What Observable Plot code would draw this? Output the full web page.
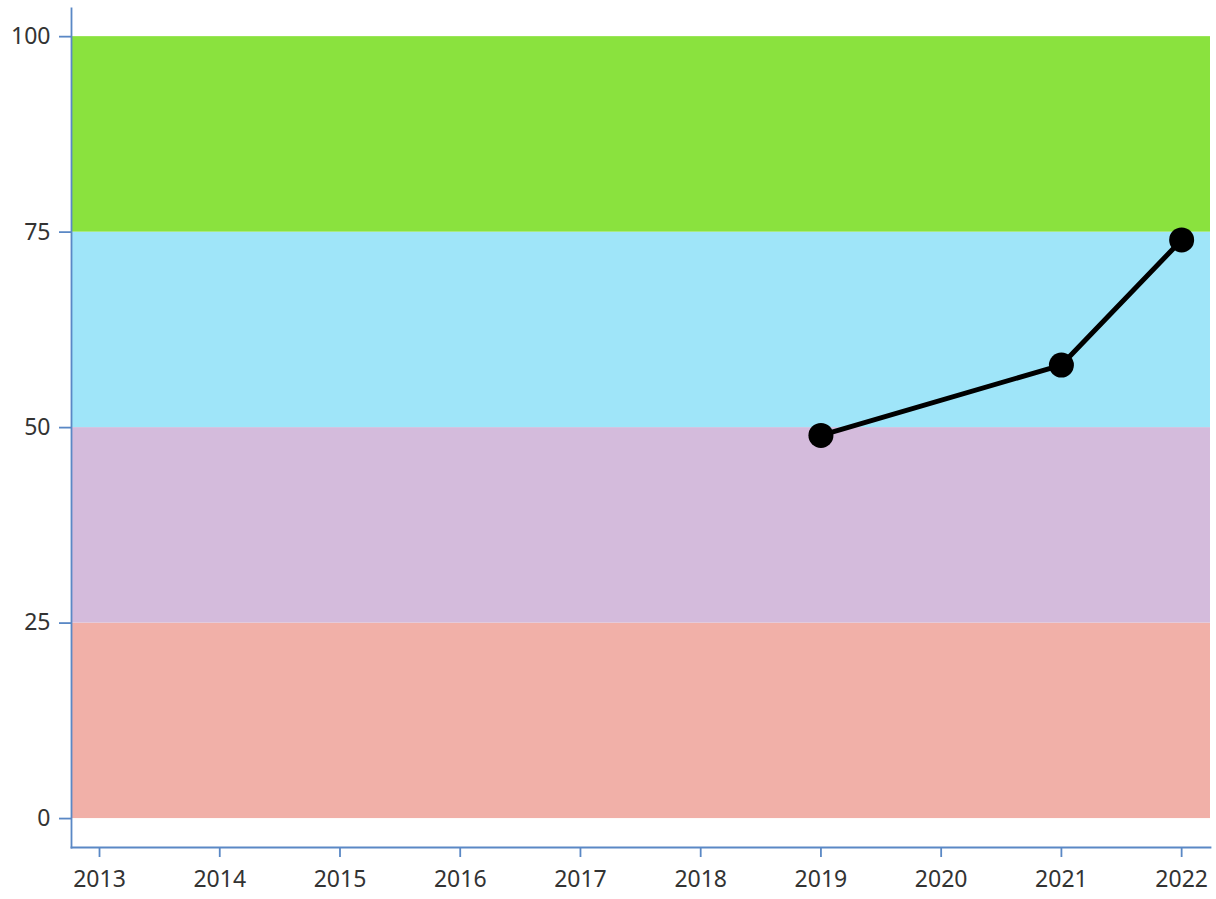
<!DOCTYPE html>
<html>
<head>
<meta charset="utf-8">
<script src="https://cdn.jsdelivr.net/npm/d3@7"></script>
<script src="https://cdn.jsdelivr.net/npm/@observablehq/plot@0.6"></script>
<style>
  html, body { margin: 0; padding: 0; background: #fff; }
  #chart svg { display: block; }
</style>
</head>
<body>
<div id="chart"></div>
<script>
// Background bands
const bandLow = [0, 25, 50, 75];
const bandHigh = [25, 50, 75, 100];
const bandColors = ["#f1b0a8", "#d4bbdc", "#9fe5f9", "#8ae23e"];

// Series
const years = [2019, 2021, 2022];
const values = [49, 58, 74];

// Ticks
const xTicks = [2013, 2014, 2015, 2016, 2017, 2018, 2019, 2020, 2021, 2022];
const yTicks = [0, 25, 50, 75, 100];

const bands = bandLow.map((lo, i) => ({lo, hi: bandHigh[i], color: bandColors[i]}));
const series = years.map((year, i) => ({year, value: values[i]}));

const axisColor = "#5a88c5";

const chart = Plot.plot({
  width: 1216,
  height: 899,
  marginLeft: 71,
  marginRight: 6,
  marginTop: 8,
  marginBottom: 52,
  style: {fontFamily: "'Noto Sans', sans-serif", fontSize: "23px", color: "#333", background: "#fff"},
  x: {domain: [2012.767, 2022.24], ticks: xTicks, tickFormat: "d", label: null},
  y: {domain: [-3.7, 103.6], ticks: yTicks, label: null},
  marks: [
    Plot.rect(bands, {y1: "lo", y2: "hi", fill: "color"}),
    Plot.line(series, {x: "year", y: "value", stroke: "#000", strokeWidth: 5}),
    Plot.dot(series, {x: "year", y: "value", r: 12.5, fill: "#000"}),
    Plot.axisX({ticks: xTicks, tickFormat: "d", tickSize: 10, tickPadding: 13, stroke: axisColor, strokeWidth: 1.8, fill: "#333", label: null}),
    Plot.axisY({ticks: yTicks, tickSize: 12, tickPadding: 9, stroke: axisColor, strokeWidth: 1.8, fill: "#333", label: null}),
    Plot.frame({anchor: "left", stroke: axisColor, strokeWidth: 1.8}),
    Plot.frame({anchor: "bottom", stroke: axisColor, strokeWidth: 1.8})
  ]
});
document.getElementById("chart").appendChild(chart);
</script>
</body>
</html>
